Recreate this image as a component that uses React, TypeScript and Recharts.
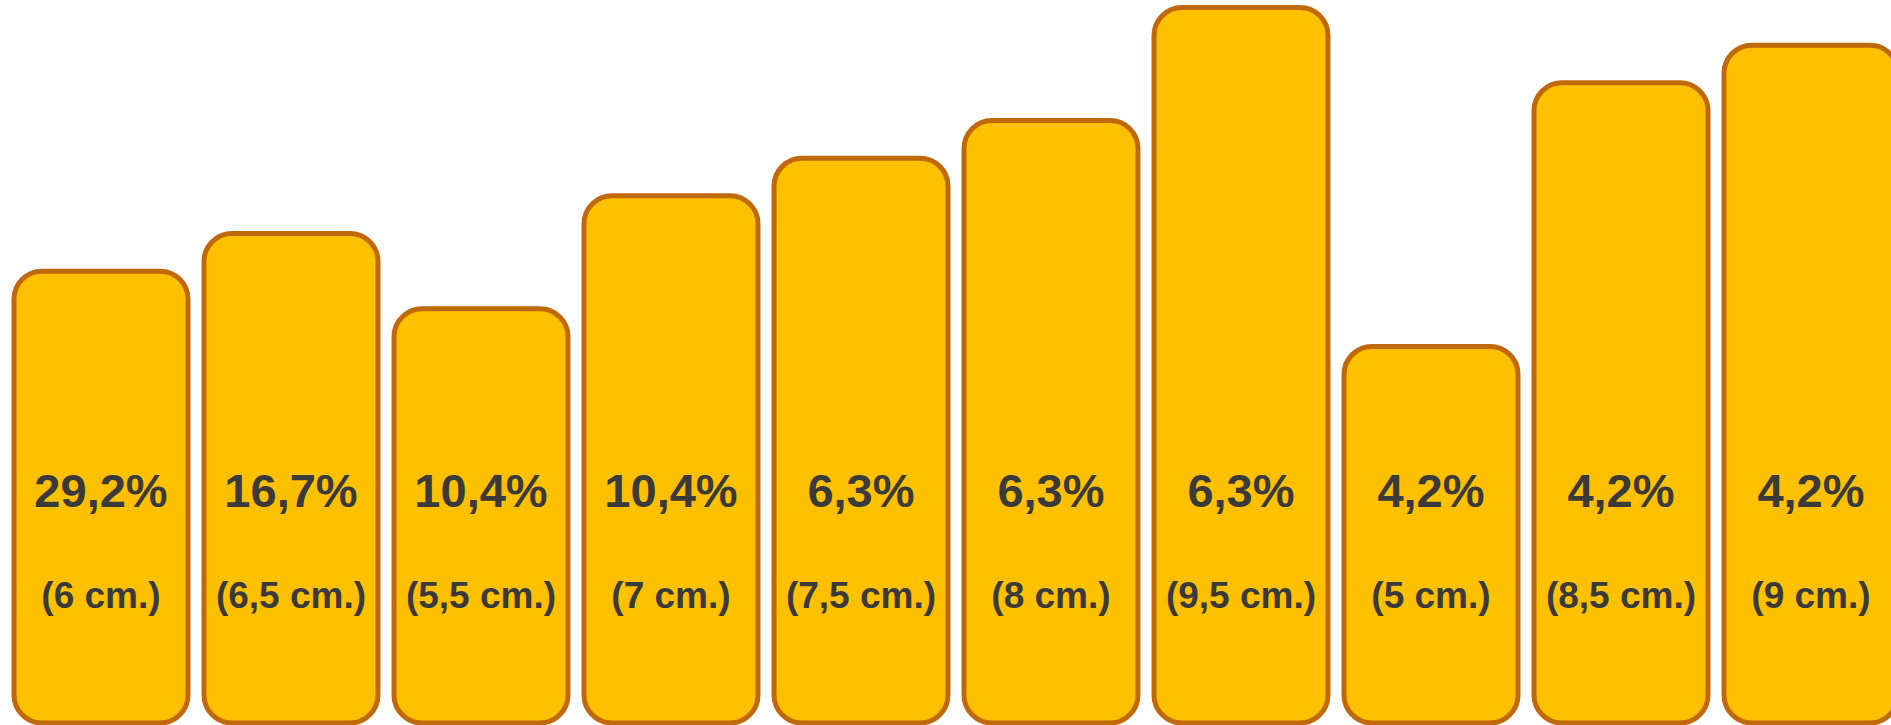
import { BarChart, Bar, XAxis, YAxis, LabelList } from 'recharts'

// bar height = sheet length in cm
const categories = ['6 cm.', '6,5 cm.', '5,5 cm.', '7 cm.', '7,5 cm.', '8 cm.', '9,5 cm.', '5 cm.', '8,5 cm.', '9 cm.']
const lengths = [6, 6.5, 5.5, 7, 7.5, 8, 9.5, 5, 8.5, 9]
const percents = ['29,2%', '16,7%', '10,4%', '10,4%', '6,3%', '6,3%', '6,3%', '4,2%', '4,2%', '4,2%']

const data = categories.map((c, i) => ({ name: c, len: lengths[i], pct: percents[i] }))

const FONT = '"Liberation Sans", Arial, sans-serif'
const TEXT = '#3a3a3a'

const PctLabel = (props: any) => {
  const { x, y, width, height, index } = props
  const bottom = y + height
  return (
    <text x={x + width / 2} y={bottom - 216} textAnchor="middle" fontFamily={FONT} fontWeight="bold" fontSize={47} fill={TEXT}>
      {percents[index]}
    </text>
  )
}

const CmLabel = (props: any) => {
  const { x, y, width, height, index } = props
  const bottom = y + height
  return (
    <text x={x + width / 2} y={bottom - 115} textAnchor="middle" fontFamily={FONT} fontWeight="bold" fontSize={37} fill={TEXT}>
      ({categories[index]})
    </text>
  )
}

export default function App() {
  return (
    <div style={{ position: 'absolute', left: 0, top: 0, width: 1891, height: 725, overflow: 'hidden', background: '#fff' }}>
      <BarChart width={1906} height={725} data={data} margin={{ top: 0, right: 0, bottom: 2, left: 6 }} barSize={174}>
        <XAxis dataKey="name" hide />
        <YAxis hide domain={[0, 9.6]} />
        <Bar dataKey="len" fill="#FFC000" stroke="#C0690A" strokeWidth={5} radius={[28, 28, 28, 28]} isAnimationActive={false}>
          <LabelList dataKey="pct" content={<PctLabel />} />
          <LabelList dataKey="name" content={<CmLabel />} />
        </Bar>
      </BarChart>
    </div>
  )
}
